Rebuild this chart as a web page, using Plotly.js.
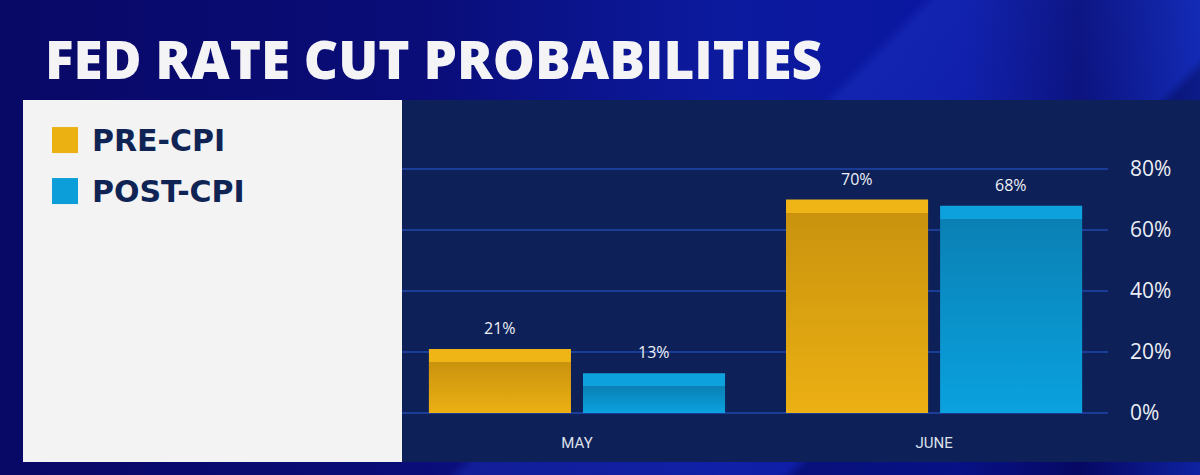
<!DOCTYPE html>
<html>
<head>
<meta charset="utf-8">
<script src="https://cdn.plot.ly/plotly-3.0.1.min.js"></script>
<style>
  html, body { margin: 0; padding: 0; width: 1200px; height: 475px; overflow: hidden; }
  body {
    background:
      linear-gradient(135deg, rgba(255,255,255,0) 0%, rgba(255,255,255,0) 55%, rgba(40,70,220,0.28) 56%, rgba(40,70,220,0.12) 75%, rgba(0,0,40,0.3) 76%, rgba(0,0,40,0.1) 100%),
      linear-gradient(90deg, #080866 0%, #0a0d78 35%, #0c1a9e 60%, #0a16a0 80%, #070a6e 90%, #1026b0 100%);
  }
  #chart { width: 1200px; height: 475px; }
</style>
</head>
<body>
<div id="chart"></div>
<script>
// ---- data ----
const categories = ["MAY", "JUNE"];
const seriesNames = ["PRE-CPI", "POST-CPI"];
const preCPI = [21, 70];
const postCPI = [13, 68];
const yTickVals = [0, 20, 40, 60, 80];
const yTickText = ["0%", "20%", "40%", "60%", "80%"];
const titleText = "FED RATE CUT PROBABILITIES";

// ---- styling ----
const colPre = "#dca412";
const colPost = "#0a91c9";
const W = 1200, H = 475;
const yMax = 81;
const pxPerUnit = 244 / 80;
const L = 402, R = 1108, B = 413, T = B - yMax * pxPerUnit;
const px = x => (x - L) / (R - L);
const py = y => 1 - (y - T) / (B - T);

const traces = [
  { type: "bar", name: seriesNames[0], x: categories, y: preCPI,
    marker: { color: colPre, line: { width: 0 } }, hoverinfo: "skip" },
  { type: "bar", name: seriesNames[1], x: categories, y: postCPI,
    marker: { color: colPost, line: { width: 0 } }, hoverinfo: "skip" }
];

const annotations = [];
const slot = 77;
[preCPI, postCPI].forEach((vals, si) => {
  vals.forEach((v, i) => {
    annotations.push({
      x: categories[i], y: v, xref: "x", yref: "y",
      text: v + "%", showarrow: false, yanchor: "bottom",
      xshift: si === 0 ? -slot : slot, yshift: 8,
      font: { family: "'Open Sans', sans-serif", size: 16, color: "#eef0f6", weight: 500 }
    });
  });
});
// legend text
const legColors = ["#ebb012", "#0b9ed9"];
seriesNames.forEach((n, i) => {
  annotations.push({
    xref: "paper", yref: "paper", x: px(90), y: py(140 + i * 51),
    xanchor: "left", yanchor: "middle", showarrow: false, text: n,
    font: { family: "'DejaVu Sans', sans-serif", size: 30, color: "#0f2454", weight: "bold" }
  });
});
// title
annotations.push({
  xref: "paper", yref: "paper", x: px(43), y: py(58),
  xanchor: "left", yanchor: "middle", showarrow: false, text: titleText,
  font: { family: "'Open Sans', sans-serif", size: 53, color: "#f4f4f6", weight: 800 }
});

const shapes = [
  { type: "rect", xref: "paper", yref: "paper", x0: px(23), x1: px(402), y0: py(462), y1: py(100),
    fillcolor: "#f3f3f4", line: { width: 0 }, layer: "below" },
  { type: "rect", xref: "paper", yref: "paper", x0: px(402), x1: px(1200), y0: py(462), y1: py(100),
    fillcolor: "#0d2058", line: { width: 0 }, layer: "below" }
];
seriesNames.forEach((n, i) => {
  shapes.push({ type: "rect", xref: "paper", yref: "paper",
    x0: px(52), x1: px(78), y0: py(153 + i * 51), y1: py(127 + i * 51),
    fillcolor: legColors[i], line: { width: 0 }, layer: "above" });
});

const layout = {
  width: W, height: H,
  margin: { l: L, r: W - R, t: T, b: H - B, pad: 0 },
  paper_bgcolor: "rgba(0,0,0,0)",
  plot_bgcolor: "rgba(0,0,0,0)",
  showlegend: false,
  barmode: "group",
  bargap: 0.137,
  bargroupgap: 0.078,
  xaxis: {
    range: [-0.49, 1.487], showgrid: false, zeroline: false, showline: false,
    ticks: "", ticklabelstandoff: 19,
    tickfont: { family: "Roboto, 'Liberation Sans', sans-serif", size: 15, color: "#dde1ea" }
  },
  yaxis: {
    range: [0, yMax], side: "right", tickvals: yTickVals, ticktext: yTickText,
    showgrid: true, gridcolor: "#1b3d98", gridwidth: 2,
    zeroline: true, zerolinecolor: "#1b3d98", zerolinewidth: 2,
    showline: false, ticks: "", ticklabelstandoff: 21,
    tickfont: { family: "'Open Sans', sans-serif", size: 21, color: "#eceef4" }
  },
  annotations: annotations,
  shapes: shapes
};

Plotly.newPlot("chart", traces, layout, { staticPlot: true, displayModeBar: false }).then(gd => {
  const svg = gd.querySelector(".main-svg");
  let defs = svg.querySelector("defs");
  const NS = "http://www.w3.org/2000/svg";
  if (!defs) { defs = document.createElementNS(NS, "defs"); svg.insertBefore(defs, svg.firstChild); }
  const pal = [
    { band: "#efb416", top: "#c9930e", bot: "#ecb013" },
    { band: "#0da2dd", top: "#0a80b4", bot: "#0aa2df" }
  ];
  gd.querySelectorAll(".barlayer .trace").forEach((tr, ti) => {
    tr.querySelectorAll(".point path").forEach((p, pi) => {
      const bb = p.getBBox();
      if (!bb.height) return;
      const id = "bg" + ti + "_" + pi;
      const g = document.createElementNS(NS, "linearGradient");
      g.setAttribute("id", id);
      g.setAttribute("x1", "0"); g.setAttribute("x2", "0");
      g.setAttribute("y1", "0"); g.setAttribute("y2", "1");
      const b = Math.min(0.5, 13 / bb.height);
      const c = pal[ti];
      [[0, c.band], [b, c.band], [b + 0.001, c.top], [1, c.bot]].forEach(s => {
        const st = document.createElementNS(NS, "stop");
        st.setAttribute("offset", s[0]);
        st.setAttribute("stop-color", s[1]);
        g.appendChild(st);
      });
      defs.appendChild(g);
      p.style.fill = "url(#" + id + ")";
    });
  });
});
</script>
</body>
</html>
